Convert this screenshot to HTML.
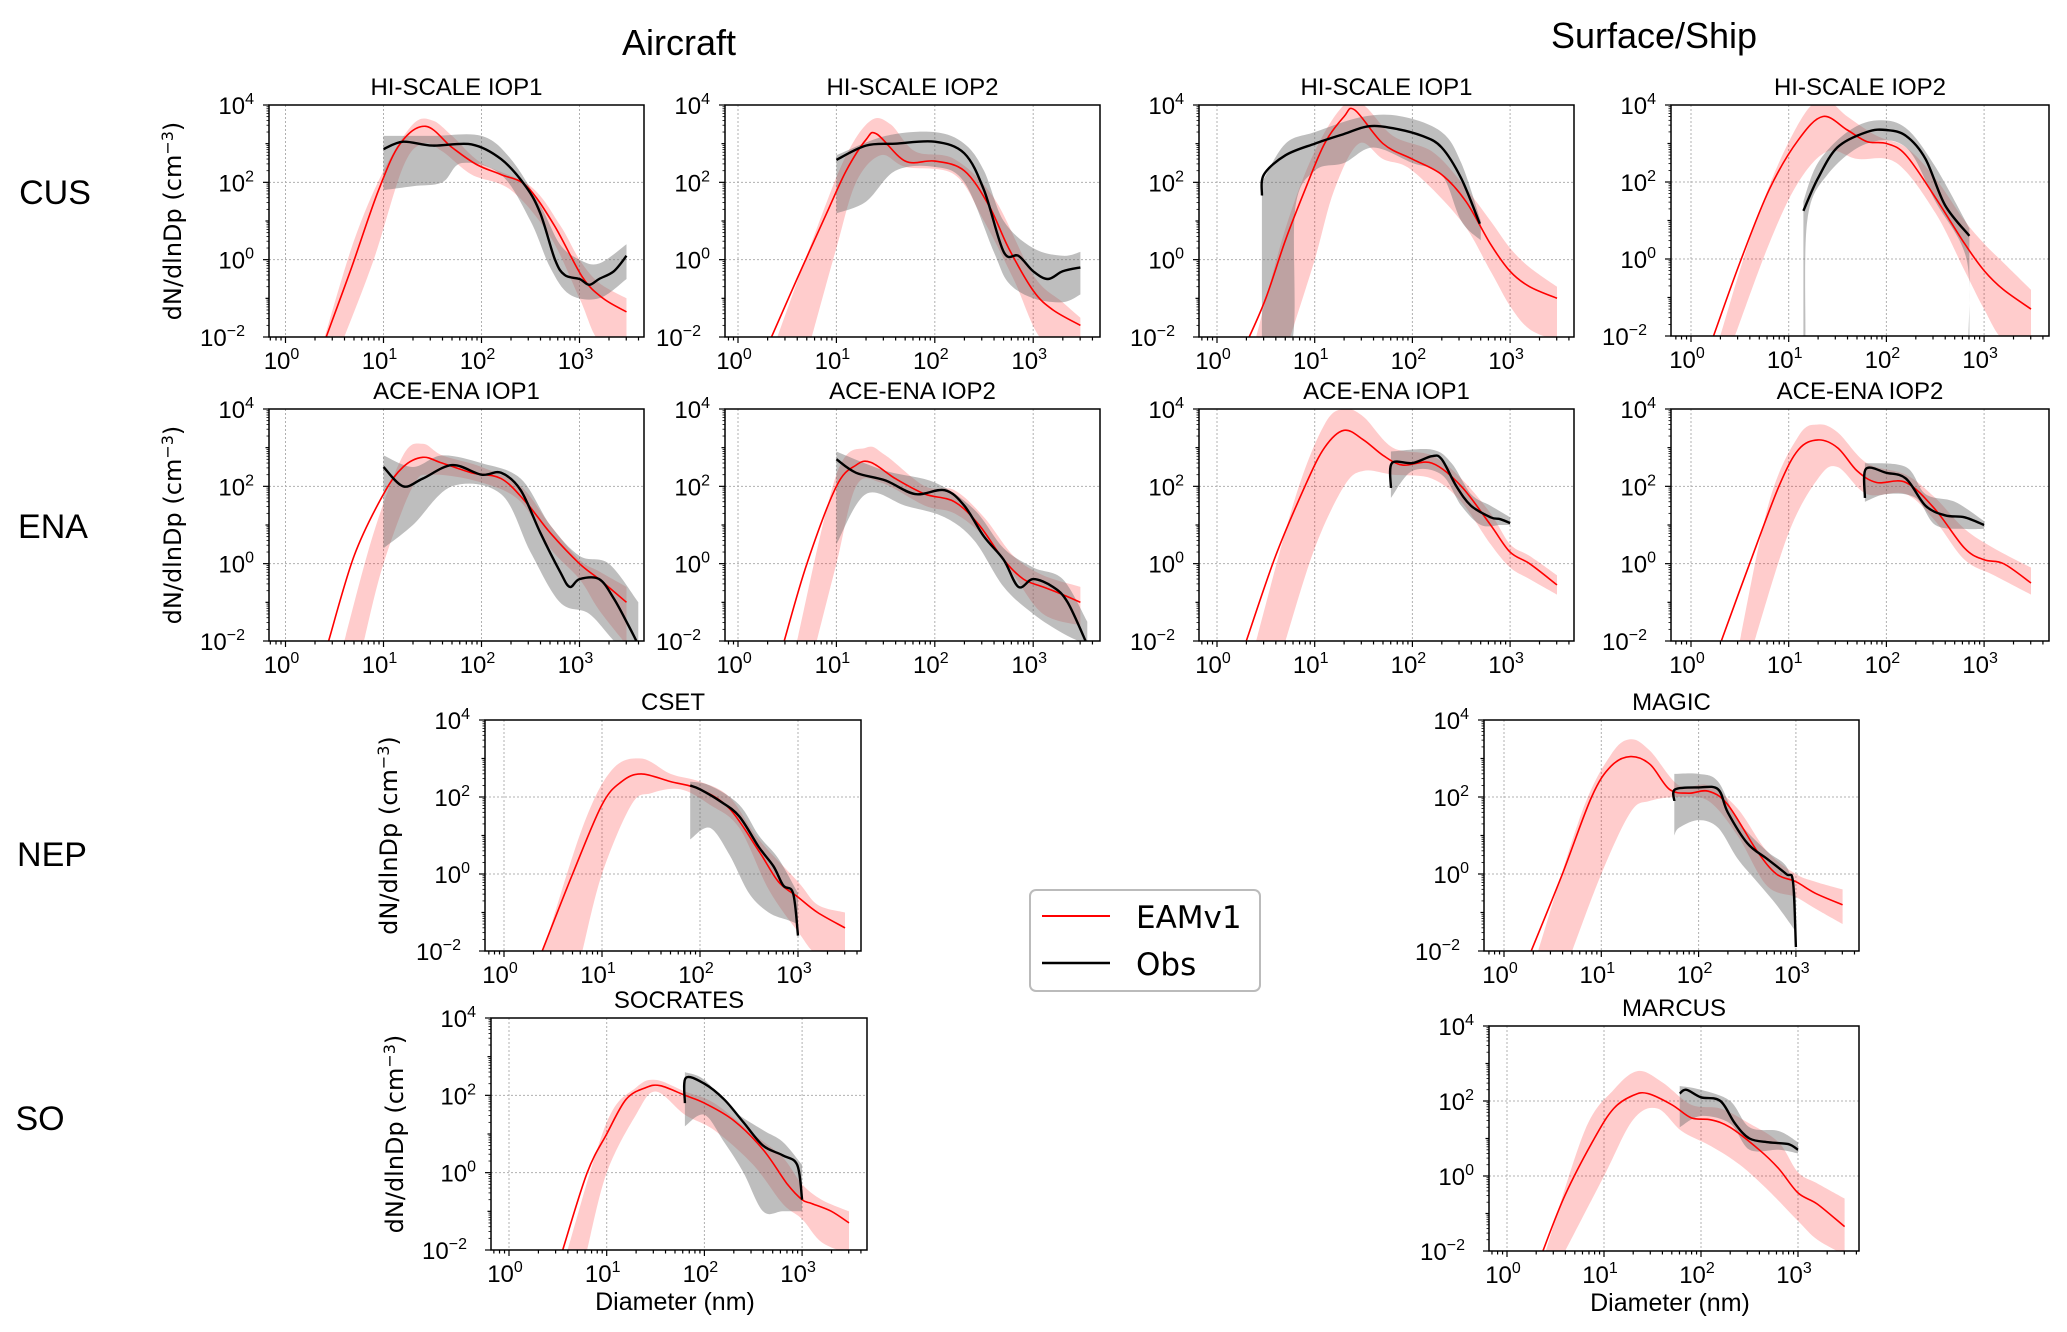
<!DOCTYPE html>
<html><head><meta charset="utf-8">
<style>
html,body{margin:0;padding:0;background:#fff;}
svg{display:block;font-family:"Liberation Sans",sans-serif;}
</style></head>
<body>
<svg id="fig" width="2067" height="1332" viewBox="0 0 2067 1332" xmlns="http://www.w3.org/2000/svg">
<text x="679" y="55" font-size="36" text-anchor="middle">Aircraft</text>
<text x="1654" y="48" font-size="36" text-anchor="middle">Surface/Ship</text>
<text x="55" y="204" font-size="34" text-anchor="middle">CUS</text>
<text x="53" y="538" font-size="34" text-anchor="middle">ENA</text>
<text x="52" y="866" font-size="34" text-anchor="middle">NEP</text>
<text x="40" y="1130" font-size="34" text-anchor="middle">SO</text>
<g>
<rect x="1030" y="890" width="230" height="101" rx="6" fill="#fff" stroke="#bbb" stroke-width="2"/>
<line x1="1042" y1="916" x2="1110" y2="916" stroke="#f00" stroke-width="2"/>
<text x="1136" y="928" font-size="31" font-family="DejaVu Sans, sans-serif">EAMv1</text>
<line x1="1042" y1="963" x2="1110" y2="963" stroke="#000" stroke-width="2.5"/>
<text x="1136" y="975" font-size="31" font-family="DejaVu Sans, sans-serif">Obs</text>
</g>
</svg>
<script>
// data in log10(diameter nm), log10(dN/dlnDp cm^-3)
const hsAir1_model=[[0.415,-2],[0.67,-0.23],[0.95,1.8],[1.17,3.0],[1.43,3.45],[1.7,2.9],[1.95,2.46],[2.2,2.2],[2.46,1.9],[2.74,0.9],[3.03,-0.45],[3.24,-1.0],[3.48,-1.35]];
const hsAir1_modelHi=[[0.4,-2],[0.7,0.5],[1.0,2.3],[1.3,3.5],[1.5,3.6],[1.7,3.2],[2.0,2.5],[2.5,1.9],[2.8,0.9],[3.0,0],[3.2,-0.6],[3.48,-1.0]];
const hsAir1_modelLo=[[0.6,-2],[0.9,0],[1.2,2.4],[1.4,3.0],[1.6,2.8],[1.9,2.2],[2.3,1.8],[2.7,0.6],[3.0,-1.0],[3.2,-2.1],[3.48,-2.1]];
const hsAir1_obs=[[1.0,2.86],[1.2,3.05],[1.5,2.95],[1.9,2.98],[2.2,2.6],[2.45,1.9],[2.6,1.2],[2.75,0.0],[2.85,-0.4],[3.0,-0.5],[3.1,-0.65],[3.2,-0.5],[3.35,-0.3],[3.48,0.1]];
const hsAir1_obsHi=[[1.0,3.2],[1.5,3.2],[2.0,3.2],[2.3,2.6],[2.6,1.4],[2.8,0.4],[3.0,0],[3.2,-0.1],[3.48,0.4]];
const hsAir1_obsLo=[[1.0,1.8],[1.3,1.9],[1.6,2.0],[1.8,2.5],[2.2,2.2],[2.5,1.0],[2.7,-0.2],[2.9,-0.9],[3.2,-1.0],[3.48,-0.5]];

const hsAir2_model=[[0.34,-2],[0.6,-0.5],[0.9,1.2],[1.1,2.3],[1.3,3.1],[1.41,3.25],[1.7,2.55],[2.0,2.55],[2.3,2.3],[2.55,1.4],[2.75,0.3],[3.0,-0.8],[3.2,-1.3],[3.48,-1.7]];
const hsAir2_modelHi=[[0.4,-2],[0.8,0.8],[1.1,2.7],[1.35,3.6],[1.55,3.5],[1.8,2.8],[2.2,2.6],[2.6,1.6],[3.0,-0.4],[3.3,-1.1],[3.48,-1.5]];
const hsAir2_modelLo=[[0.75,-2],[1.0,0.3],[1.2,2.0],[1.45,2.7],[1.7,2.4],[2.2,2.2],[2.5,1.0],[2.8,-0.5],[3.1,-2.1],[3.48,-2.1]];
const hsAir2_obs=[[1.0,2.58],[1.3,2.95],[1.6,3.0],[2.0,3.05],[2.3,2.75],[2.5,1.8],[2.7,0.2],[2.85,0.1],[3.0,-0.3],[3.15,-0.5],[3.3,-0.3],[3.48,-0.2]];
const hsAir2_obsHi=[[1.0,2.7],[1.5,3.2],[2.0,3.3],[2.3,3.0],[2.5,2.3],[2.7,1.0],[3.0,0.3],[3.3,0.1],[3.48,0.2]];
const hsAir2_obsLo=[[1.0,1.2],[1.3,1.5],[1.6,2.3],[2.0,2.4],[2.3,2.0],[2.6,0.2],[2.75,-0.6],[3.0,-1.0],[3.3,-1.1],[3.48,-0.9]];

const hsSfc1_model=[[0.33,-2],[0.5,-1.0],[0.7,0.5],[0.9,1.8],[1.1,3.0],[1.3,3.7],[1.41,3.87],[1.7,3.0],[2.0,2.6],[2.3,2.2],[2.55,1.5],[2.8,0.4],[3.0,-0.3],[3.2,-0.7],[3.48,-1.0]];
const hsSfc1_modelHi=[[0.4,-2],[0.7,0.8],[1.0,2.8],[1.3,4.0],[1.5,4.0],[1.8,3.2],[2.2,2.8],[2.5,2.0],[2.8,1.0],[3.0,0.3],[3.2,-0.2],[3.48,-0.7]];
const hsSfc1_modelLo=[[0.75,-2],[1.0,0.0],[1.2,1.8],[1.45,3.0],[1.7,2.6],[2.0,2.3],[2.5,1.0],[2.8,-0.3],[3.0,-1.2],[3.2,-1.8],[3.48,-2.1]];
const hsSfc1_obs=[[0.46,1.66],[0.48,2.2],[0.7,2.7],[1.0,3.0],[1.3,3.25],[1.55,3.45],[1.8,3.4],[2.1,3.2],[2.3,2.9],[2.5,2.1],[2.69,0.93]];
const hsSfc1_obsHi=[[0.46,2.0],[0.7,3.0],[1.0,3.3],[1.5,3.7],[1.9,3.7],[2.3,3.3],[2.5,2.5],[2.7,1.0]];
const hsSfc1_obsLo=[[0.46,-2.1],[0.77,-2.1],[0.8,1.3],[1.0,2.3],[1.3,2.5],[1.6,2.9],[2.0,2.5],[2.3,2.2],[2.5,1.0],[2.7,0.5]];

const hsSfc2_model=[[0.23,-2],[0.5,-0.1],[0.8,1.8],[1.1,3.1],[1.35,3.7],[1.6,3.35],[1.8,3.05],[2.0,3.0],[2.2,2.7],[2.5,1.6],[2.8,0.4],[3.0,-0.3],[3.2,-0.8],[3.48,-1.3]];
const hsSfc2_modelHi=[[0.3,-2],[0.6,0.5],[0.9,2.5],[1.2,3.9],[1.4,4.1],[1.6,3.7],[1.9,3.2],[2.2,2.9],[2.5,2.1],[2.8,1.0],[3.0,0.4],[3.2,-0.1],[3.48,-0.8]];
const hsSfc2_modelLo=[[0.45,-2],[0.8,0.4],[1.1,2.0],[1.4,2.8],[1.7,2.6],[2.1,2.5],[2.5,1.2],[2.8,-0.3],[3.0,-1.3],[3.2,-2.1],[3.48,-2.1]];
const hsSfc2_obs=[[1.15,1.25],[1.3,2.1],[1.5,2.9],[1.8,3.3],[2.0,3.35],[2.2,3.2],[2.4,2.6],[2.6,1.4],[2.85,0.6]];
const hsSfc2_obsHi=[[1.15,1.5],[1.3,2.5],[1.6,3.3],[1.9,3.6],[2.2,3.4],[2.5,2.4],[2.85,0.8]];
const hsSfc2_obsLo=[[1.15,-2.1],[1.17,-2.1],[1.19,1.0],[1.4,2.2],[1.8,3.0],[2.2,2.9],[2.5,1.5],[2.82,0.0],[2.84,-2.1],[2.85,-2.1]];

const enaAir1_model=[[0.44,-2],[0.7,0.2],[1.0,1.8],[1.2,2.5],[1.4,2.75],[1.6,2.6],[1.9,2.35],[2.2,2.2],[2.45,1.6],[2.7,0.8],[3.0,0.0],[3.2,-0.4],[3.48,-1.0]];
const enaAir1_modelHi=[[0.6,-2],[0.9,0.8],[1.2,2.8],[1.4,3.1],[1.6,2.8],[2.0,2.5],[2.4,2.0],[2.7,1.0],[3.0,0.1],[3.2,-0.2],[3.48,-0.6]];
const enaAir1_modelLo=[[0.8,-2],[1.0,0.0],[1.3,2.0],[1.5,2.3],[2.0,2.1],[2.4,1.6],[2.7,0.4],[3.0,-0.4],[3.2,-1.2],[3.48,-2.1]];
const enaAir1_obs=[[1.0,2.5],[1.2,2.0],[1.4,2.2],[1.7,2.55],[2.0,2.3],[2.2,2.35],[2.4,1.9],[2.6,0.8],[2.8,-0.2],[2.9,-0.6],[3.0,-0.4],[3.2,-0.4],[3.35,-0.9],[3.5,-1.6],[3.6,-2.1]];
const enaAir1_obsHi=[[1.0,2.8],[1.3,2.5],[1.6,2.8],[2.0,2.6],[2.4,2.2],[2.7,1.0],[3.0,0.2],[3.3,0.0],[3.6,-1.0]];
const enaAir1_obsLo=[[1.0,0.4],[1.3,1.0],[1.7,2.0],[2.2,1.8],[2.5,0.3],[2.8,-1.0],[3.1,-1.3],[3.4,-2.1],[3.6,-2.1]];

const enaAir2_model=[[0.47,-2],[0.7,0.0],[1.0,2.0],[1.2,2.55],[1.35,2.62],[1.6,2.2],[1.9,1.8],[2.2,1.6],[2.45,1.0],[2.7,0.1],[2.9,-0.4],[3.1,-0.6],[3.3,-0.8],[3.48,-1.0]];
const enaAir2_modelHi=[[0.6,-2],[1.0,2.3],[1.3,3.0],[1.5,2.8],[1.9,2.0],[2.2,1.9],[2.5,1.2],[2.8,0.2],[3.1,-0.3],[3.48,-0.6]];
const enaAir2_modelLo=[[0.8,-2],[1.0,0.0],[1.2,2.0],[1.45,2.1],[1.9,1.5],[2.2,1.3],[2.5,0.7],[2.8,-0.3],[3.1,-1.3],[3.48,-1.6]];
const enaAir2_obs=[[1.0,2.7],[1.2,2.35],[1.5,2.15],[1.8,1.8],[2.1,1.9],[2.3,1.5],[2.5,0.7],[2.7,0.1],[2.85,-0.6],[3.0,-0.4],[3.2,-0.6],[3.35,-1.0],[3.55,-2.1]];
const enaAir2_obsHi=[[1.0,2.9],[1.5,2.4],[2.0,2.1],[2.4,1.4],[2.7,0.4],[3.0,-0.1],[3.3,-0.4],[3.55,-1.5]];
const enaAir2_obsLo=[[1.0,0.5],[1.3,1.8],[1.7,1.5],[2.1,1.2],[2.4,0.6],[2.7,-0.6],[3.0,-1.3],[3.3,-1.8],[3.55,-2.1]];

const enaSfc1_model=[[0.3,-2],[0.6,0.2],[0.9,2.0],[1.1,3.0],[1.3,3.45],[1.5,3.2],[1.7,2.8],[1.9,2.55],[2.2,2.6],[2.5,2.0],[2.8,1.0],[3.0,0.3],[3.2,0.0],[3.48,-0.55]];
const enaSfc1_modelHi=[[0.4,-2],[0.8,1.7],[1.1,3.6],[1.3,4.0],[1.5,3.8],[1.8,3.0],[2.2,2.8],[2.5,2.2],[2.8,1.3],[3.0,0.5],[3.2,0.2],[3.48,-0.3]];
const enaSfc1_modelLo=[[0.7,-2],[1.0,0.4],[1.3,2.0],[1.5,2.4],[1.8,2.3],[2.2,2.2],[2.5,1.6],[2.8,0.5],[3.0,-0.1],[3.2,-0.4],[3.48,-0.8]];
const enaSfc1_obs=[[1.78,1.96],[1.79,2.6],[2.0,2.6],[2.2,2.78],[2.3,2.7],[2.45,2.0],[2.6,1.5],[2.8,1.2],[2.9,1.15],[3.0,1.05]];
const enaSfc1_obsHi=[[1.78,2.9],[2.2,2.95],[2.4,2.6],[2.6,1.8],[2.8,1.5],[3.0,1.2]];
const enaSfc1_obsLo=[[1.78,1.7],[2.0,2.4],[2.3,2.3],[2.5,1.5],[2.7,1.0],[2.9,1.0],[3.0,1.0]];

const enaSfc2_model=[[0.31,-2],[0.6,0.0],[0.9,2.0],[1.1,2.95],[1.3,3.2],[1.5,3.0],[1.7,2.4],[1.9,2.1],[2.2,2.1],[2.5,1.4],[2.8,0.4],[3.0,0.1],[3.2,0.0],[3.48,-0.5]];
const enaSfc2_modelHi=[[0.5,-2],[0.8,1.6],[1.1,3.3],[1.3,3.6],[1.5,3.4],[1.8,2.6],[2.2,2.3],[2.5,1.7],[2.8,0.9],[3.1,0.4],[3.48,-0.1]];
const enaSfc2_modelLo=[[0.65,-2],[1.0,0.8],[1.3,2.2],[1.5,2.5],[1.8,1.8],[2.2,1.8],[2.5,1.1],[2.8,0.1],[3.1,-0.3],[3.48,-0.8]];
const enaSfc2_obs=[[1.78,1.7],[1.79,2.45],[2.0,2.35],[2.2,2.2],[2.4,1.5],[2.6,1.25],[2.8,1.2],[3.0,1.0]];
const enaSfc2_obsHi=[[1.78,2.6],[2.2,2.5],[2.4,1.8],[2.7,1.6],[3.0,1.1]];
const enaSfc2_obsLo=[[1.78,1.6],[2.0,1.8],[2.3,1.7],[2.5,1.0],[2.8,0.9],[3.0,0.9]];

const cset_model=[[0.39,-2],[0.7,0.0],[1.0,1.8],[1.2,2.4],[1.4,2.6],[1.7,2.4],[2.0,2.2],[2.3,1.7],[2.6,0.6],[2.8,-0.2],[3.0,-0.6],[3.2,-1.0],[3.48,-1.4]];
const cset_modelHi=[[0.4,-2],[0.8,1.2],[1.1,2.7],[1.4,3.0],[1.7,2.6],[2.0,2.4],[2.3,2.0],[2.6,0.9],[3.0,-0.2],[3.2,-0.8],[3.48,-1.0]];
const cset_modelLo=[[0.8,-2],[1.0,0.0],[1.3,1.8],[1.5,2.1],[1.8,2.2],[2.1,1.8],[2.4,1.2],[2.7,-0.4],[3.0,-1.5],[3.2,-2.1],[3.48,-2.1]];
const cset_obs=[[1.9,2.3],[2.0,2.2],[2.2,1.9],[2.4,1.5],[2.6,0.7],[2.75,0.2],[2.85,-0.3],[2.95,-0.5],[3.0,-1.6]];
const cset_obsHi=[[1.9,2.4],[2.1,2.3],[2.4,1.8],[2.6,1.0],[2.8,0.4],[3.0,-0.5]];
const cset_obsLo=[[1.9,0.9],[2.1,1.2],[2.3,0.5],[2.5,-0.5],[2.7,-1.0],[2.9,-1.2],[3.0,-1.3]];

const magic_model=[[0.28,-2],[0.6,0.0],[0.9,2.0],[1.1,2.8],[1.3,3.05],[1.5,2.85],[1.7,2.2],[1.9,2.1],[2.1,2.15],[2.3,1.8],[2.6,0.6],[2.8,0.0],[3.0,-0.2],[3.2,-0.5],[3.48,-0.8]];
const magic_modelHi=[[0.35,-2],[0.8,1.6],[1.1,3.1],[1.3,3.5],[1.5,3.2],[1.8,2.3],[2.1,2.3],[2.4,1.7],[2.7,0.6],[3.0,0.0],[3.2,-0.2],[3.48,-0.4]];
const magic_modelLo=[[0.7,-2],[1.0,0.0],[1.3,1.6],[1.5,1.9],[1.8,2.0],[2.1,1.9],[2.4,1.0],[2.7,-0.3],[3.0,-0.6],[3.2,-0.9],[3.48,-1.3]];
const magic_obs=[[1.75,1.9],[1.76,2.2],[2.0,2.25],[2.2,2.2],[2.3,1.6],[2.5,0.8],[2.7,0.4],[2.9,0.0],[2.97,-0.2],[3.0,-1.9]];
const magic_obsHi=[[1.75,2.6],[2.0,2.6],[2.2,2.4],[2.4,1.4],[2.7,0.6],[2.9,0.2],[3.0,-0.5]];
const magic_obsLo=[[1.75,1.0],[1.8,1.2],[2.0,1.4],[2.2,1.2],[2.4,0.4],[2.6,-0.2],[2.8,-0.8],[3.0,-1.5]];

const socrates_model=[[0.55,-2],[0.8,0.0],[1.0,1.0],[1.2,1.9],[1.4,2.2],[1.55,2.25],[1.8,2.0],[2.0,1.8],[2.3,1.35],[2.6,0.6],[2.85,-0.3],[3.0,-0.7],[3.1,-0.8],[3.3,-1.0],[3.48,-1.3]];
const socrates_modelHi=[[0.6,-2],[1.0,1.3],[1.3,2.2],[1.5,2.4],[1.8,2.1],[2.1,1.8],[2.5,1.0],[2.8,0.4],[3.0,-0.3],[3.2,-0.7],[3.48,-1.0]];
const socrates_modelLo=[[0.8,-2],[1.0,0.0],[1.3,1.5],[1.5,2.1],[1.8,1.5],[2.1,1.1],[2.5,0.2],[2.8,-0.8],[3.0,-1.2],[3.2,-1.8],[3.48,-2.1]];
const socrates_obs=[[1.8,1.8],[1.81,2.45],[2.0,2.3],[2.2,1.9],[2.4,1.3],[2.6,0.7],[2.8,0.45],[2.95,0.2],[3.0,-0.7]];
const socrates_obsHi=[[1.8,2.6],[2.0,2.4],[2.3,1.6],[2.6,1.1],[2.8,0.8],[3.0,0.2]];
const socrates_obsLo=[[1.8,1.2],[2.0,1.5],[2.2,0.8],[2.4,0.0],[2.6,-1.0],[2.8,-1.0],[3.0,-1.0]];

const marcus_model=[[0.37,-2],[0.6,-0.5],[0.9,1.0],[1.1,1.8],[1.3,2.15],[1.45,2.2],[1.7,1.9],[1.9,1.55],[2.1,1.5],[2.3,1.3],[2.6,0.7],[2.8,0.2],[3.0,-0.45],[3.2,-0.75],[3.48,-1.35]];
const marcus_modelHi=[[0.4,-2],[0.8,1.2],[1.1,2.3],[1.35,2.8],[1.6,2.5],[1.9,1.9],[2.2,1.8],[2.5,1.4],[2.8,0.9],[3.0,0.1],[3.2,-0.2],[3.48,-0.6]];
const marcus_modelLo=[[0.6,-2],[1.0,0.0],[1.3,1.5],[1.55,1.8],[1.8,1.2],[2.1,0.8],[2.4,0.3],[2.7,-0.4],[3.0,-1.2],[3.2,-1.7],[3.48,-2.1]];
const marcus_obs=[[1.78,2.2],[1.85,2.3],[2.0,2.1],[2.2,2.0],[2.35,1.4],[2.5,1.0],[2.7,0.9],[2.9,0.85],[3.0,0.7]];
const marcus_obsHi=[[1.78,2.4],[2.0,2.3],[2.3,2.0],[2.5,1.3],[2.8,1.2],[3.0,0.9]];
const marcus_obsLo=[[1.78,1.3],[2.0,1.6],[2.3,1.4],[2.5,0.7],[2.8,0.7],[3.0,0.6]];

const yTicks=[-2,0,2,4];
const xTicks=[0,1,2,3];

const panels=[
 {id:'aircraft-hiscale-iop1',title:'HI-SCALE IOP1',L:269,R:644,T:105,B:337,x0:285.5,dec:98,ylab:true,d:[hsAir1_model,hsAir1_modelHi,hsAir1_modelLo,hsAir1_obs,hsAir1_obsHi,hsAir1_obsLo]},
 {id:'aircraft-hiscale-iop2',title:'HI-SCALE IOP2',L:725,R:1100,T:105,B:337,x0:738,dec:98.4,ylab:false,d:[hsAir2_model,hsAir2_modelHi,hsAir2_modelLo,hsAir2_obs,hsAir2_obsHi,hsAir2_obsLo]},
 {id:'surface-hiscale-iop1',title:'HI-SCALE IOP1',L:1199,R:1574,T:105,B:337,x0:1217,dec:97.7,ylab:false,d:[hsSfc1_model,hsSfc1_modelHi,hsSfc1_modelLo,hsSfc1_obs,hsSfc1_obsHi,hsSfc1_obsLo]},
 {id:'surface-hiscale-iop2',title:'HI-SCALE IOP2',L:1671,R:2049,T:105,B:336,x0:1691,dec:97.7,ylab:false,d:[hsSfc2_model,hsSfc2_modelHi,hsSfc2_modelLo,hsSfc2_obs,hsSfc2_obsHi,hsSfc2_obsLo]},
 {id:'aircraft-aceena-iop1',title:'ACE-ENA IOP1',L:269,R:644,T:409,B:641,x0:285.5,dec:98,ylab:true,d:[enaAir1_model,enaAir1_modelHi,enaAir1_modelLo,enaAir1_obs,enaAir1_obsHi,enaAir1_obsLo]},
 {id:'aircraft-aceena-iop2',title:'ACE-ENA IOP2',L:725,R:1100,T:409,B:641,x0:738,dec:98.4,ylab:false,d:[enaAir2_model,enaAir2_modelHi,enaAir2_modelLo,enaAir2_obs,enaAir2_obsHi,enaAir2_obsLo]},
 {id:'surface-aceena-iop1',title:'ACE-ENA IOP1',L:1199,R:1574,T:409,B:641,x0:1217,dec:97.7,ylab:false,d:[enaSfc1_model,enaSfc1_modelHi,enaSfc1_modelLo,enaSfc1_obs,enaSfc1_obsHi,enaSfc1_obsLo]},
 {id:'surface-aceena-iop2',title:'ACE-ENA IOP2',L:1671,R:2049,T:409,B:641,x0:1691,dec:97.7,ylab:false,d:[enaSfc2_model,enaSfc2_modelHi,enaSfc2_modelLo,enaSfc2_obs,enaSfc2_obsHi,enaSfc2_obsLo]},
 {id:'cset',title:'CSET',L:485,R:861,T:720,B:951,x0:504,dec:98,ylab:true,d:[cset_model,cset_modelHi,cset_modelLo,cset_obs,cset_obsHi,cset_obsLo]},
 {id:'magic',title:'MAGIC',L:1484,R:1859,T:720,B:951,x0:1504,dec:97.3,ylab:false,d:[magic_model,magic_modelHi,magic_modelLo,magic_obs,magic_obsHi,magic_obsLo]},
 {id:'socrates',title:'SOCRATES',L:491,R:867,T:1018,B:1250,x0:509,dec:97.7,ylab:true,xlab:true,d:[socrates_model,socrates_modelHi,socrates_modelLo,socrates_obs,socrates_obsHi,socrates_obsLo]},
 {id:'marcus',title:'MARCUS',L:1489,R:1859,T:1026,B:1251,x0:1507,dec:97,ylab:false,xlab:true,d:[marcus_model,marcus_modelHi,marcus_modelLo,marcus_obs,marcus_obsHi,marcus_obsLo]}
];

const NS='http://www.w3.org/2000/svg';
const svg=document.getElementById('fig');
function mk(tag,attrs,parent){const e=document.createElementNS(NS,tag);for(const k in attrs)e.setAttribute(k,attrs[k]);(parent||svg).appendChild(e);return e;}
function smooth(pts,move){
  let s='';
  for(let i=0;i<pts.length;i++){
    const p=pts[i];
    if(i===0){s+=(move?'M':'L')+p[0].toFixed(1)+','+p[1].toFixed(1);continue;}
    const p0=pts[i-2]||pts[i-1],p1=pts[i-1],p3=pts[i+1]||p;
    const c1=[p1[0]+(p[0]-p0[0])/6,p1[1]+(p[1]-p0[1])/6];
    const c2=[p[0]-(p3[0]-p1[0])/6,p[1]-(p3[1]-p1[1])/6];
    s+='C'+c1[0].toFixed(1)+','+c1[1].toFixed(1)+' '+c2[0].toFixed(1)+','+c2[1].toFixed(1)+' '+p[0].toFixed(1)+','+p[1].toFixed(1);
  }
  return s;
}
panels.forEach((P,idx)=>{
  const X=v=>P.x0+v*P.dec;
  const Y=v=>P.B-(v+2)/6*(P.B-P.T);
  const g=mk('g',{});
  
  
  const cid='clip'+idx;
  const cp=mk('clipPath',{id:cid},g);
  mk('rect',{x:P.L,y:P.T,width:P.R-P.L,height:P.B-P.T},cp);
  xTicks.forEach(t=>{const l=mk('line',{x1:X(t),x2:X(t),y1:P.T,y2:P.B,stroke:'#b0b0b0','stroke-width':1,'stroke-dasharray':'2,2'},g);
    });
  yTicks.forEach(t=>{const l=mk('line',{x1:P.L,x2:P.R,y1:Y(t),y2:Y(t),stroke:'#b0b0b0','stroke-width':1,'stroke-dasharray':'2,2'},g);
    });
  const cg=mk('g',{'clip-path':'url(#'+cid+')'},g);
  const map=a=>a.map(p=>[X(p[0]),Y(p[1])]);
  const band=(hi,lo,fill,name)=>{
    const h=map(hi),l=map(lo).reverse();
    const e=mk('path',{d:smooth(h,true)+smooth(l,false)+'Z',fill:fill,stroke:'none'},cg);
    
  };
  band(P.d[1],P.d[2],'rgba(255,0,0,0.2)','eamv1-range-band');
  band(P.d[4],P.d[5],'rgba(110,110,110,0.45)','obs-range-band');
  const m=mk('path',{d:smooth(map(P.d[0]),true),fill:'none',stroke:'#f00','stroke-width':1.6},cg);
  
  const o=mk('path',{d:smooth(map(P.d[3]),true),fill:'none',stroke:'#000','stroke-width':2.4},cg);
  
  const fr=mk('rect',{x:P.L,y:P.T,width:P.R-P.L,height:P.B-P.T,fill:'none',stroke:'#000','stroke-width':1.5},g);
  
  for(let d=-1;d<=4;d++){for(let k=1;k<10;k++){const v=d+Math.log10(k);const x=X(v);if(x<P.L||x>P.R)continue;
    mk('line',{x1:x,x2:x,y1:P.B,y2:P.B+(k===1?6:3.5),stroke:'#000','stroke-width':1.2},g);}}
  for(let d=-2;d<=4;d++){const y=Y(d);mk('line',{x1:P.L,x2:P.L-(d%2===0?6:3.5),y1:y,y2:y,stroke:'#000','stroke-width':1.2},g);
    if(d<4)for(let k=2;k<10;k++){const yy=Y(d+Math.log10(k));mk('line',{x1:P.L,x2:P.L-2.5,y1:yy,y2:yy,stroke:'#000','stroke-width':0.8},g);}}
  xTicks.forEach(t=>{const tx=mk('text',{x:X(t)-4,y:P.B+32,'font-size':24,'text-anchor':'middle'},g);
    
    tx.textContent='10';const s=mk('tspan',{dy:-10,'font-size':16},tx);s.textContent=String(t);});
  yTicks.forEach(t=>{const tx=mk('text',{x:P.L-(t<0?24:15),y:Y(t)+9,'font-size':24,'text-anchor':'end'},g);
    
    tx.textContent='10';const s=mk('tspan',{dy:-10,'font-size':16},tx);s.textContent=(t<0?'\u2212':'')+Math.abs(t);});
  const ti=mk('text',{x:(P.L+P.R)/2,y:P.T-10,'font-size':24,'text-anchor':'middle'},g);
  
  ti.textContent=P.title;
  if(P.ylab){const cx=P.L-88,cy=(P.T+P.B)/2;
    const yl=mk('text',{x:cx,y:cy,'font-size':24,'text-anchor':'middle','font-family':'DejaVu Sans, sans-serif',transform:'rotate(-90 '+cx+' '+cy+')'},g);
    
    yl.textContent='dN/dlnDp (cm';const s=mk('tspan',{dy:-8,'font-size':16},yl);s.textContent='\u22123';
    const s2=mk('tspan',{dy:8},yl);s2.textContent=')';}
  if(P.xlab){const xl=mk('text',{x:(P.L+P.R)/2-4,y:P.B+60,'font-size':25,'text-anchor':'middle'},g);
    
    xl.textContent='Diameter (nm)';}
});
</script>
</body></html>
